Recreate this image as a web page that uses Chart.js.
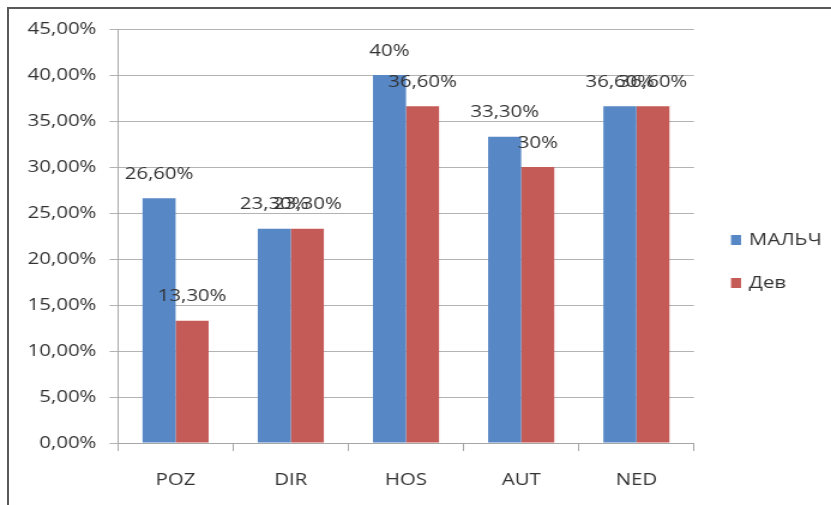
<!DOCTYPE html>
<html>
<head>
<meta charset="utf-8">
<script src="https://cdn.jsdelivr.net/npm/chart.js@4"></script>
<style>
  html, body { margin: 0; padding: 0; background: #fff; overflow: hidden; }
  #wrap { position: relative; width: 831px; height: 505px; }
  #frame { position: absolute; left: 7px; top: 7px; right: 0; bottom: -5px; border-top: 2px solid #5a5a5a; border-left: 2px solid #5a5a5a; }
  canvas { position: absolute; left: 0; top: 0; transform-origin: 0 0; }
</style>
</head>
<body>
<div id="wrap">
  <div id="frame"></div>
  <canvas id="chart"></canvas>
</div>
<script>
// данные
const categories = ['POZ', 'DIR', 'HOS', 'AUT', 'NED'];
const boys = [26.6, 23.3, 40, 33.3, 36.6];
const girls = [13.3, 23.3, 36.6, 30, 36.6];
const seriesNames = ['МАЛЬЧ', 'Дев'];
const colors = ['#5787C5', '#C55B57'];

const textColor = '#333333';
const fontFamily = '"Open Sans", sans-serif';
const fontSize = 17;

// картинка в оригинале растянута по горизонтали
const SX = 1.2;
const canvas = document.getElementById('chart');
canvas.width = Math.round(831 / SX);
canvas.height = 505;
canvas.style.transform = 'scaleX(' + (831 / canvas.width) + ')';
const sx = v => v * canvas.width / 831;

function fmt(v) {
    if (Number.isInteger(v)) return v + '%';
    return v.toFixed(2).replace('.', ',') + '%';
}

// подписи над столбцами
const barLabels = {
    id: 'barLabels',
    afterDatasetsDraw(chart) {
        const ctx = chart.ctx;
        ctx.save();
        ctx.font = fontSize + 'px ' + fontFamily;
        ctx.fillStyle = textColor;
        ctx.textAlign = 'center';
        ctx.textBaseline = 'middle';
        chart.data.datasets.forEach((ds, i) => {
            chart.getDatasetMeta(i).data.forEach((bar, j) => {
                ctx.fillText(fmt(ds.data[j]), bar.x, bar.y - 24);
            });
        });
        ctx.restore();
    }
};

// легенда справа
const sideLegend = {
    id: 'sideLegend',
    afterDraw(chart) {
        const ctx = chart.ctx;
        ctx.save();
        ctx.font = fontSize + 'px ' + fontFamily;
        ctx.textBaseline = 'middle';
        chart.data.datasets.forEach((ds, i) => {
            const y = 240 + i * 43;
            ctx.fillStyle = ds.backgroundColor;
            ctx.fillRect(sx(731), y - 5, sx(10), 10);
            ctx.fillStyle = textColor;
            ctx.fillText(ds.label, sx(749), y);
        });
        ctx.restore();
    }
};

new Chart(canvas, {
    type: 'bar',
    data: {
        labels: categories,
        datasets: [
            { label: seriesNames[0], data: boys, backgroundColor: colors[0] },
            { label: seriesNames[1], data: girls, backgroundColor: colors[1] }
        ]
    },
    options: {
        responsive: false,
        animation: false,
        layout: { padding: { left: 0, top: 29, right: sx(137), bottom: 0 } },
        datasets: { bar: { barPercentage: 1, categoryPercentage: 0.574 } },
        plugins: { legend: { display: false }, tooltip: { enabled: false } },
        scales: {
            x: {
                grid: { offset: true, drawOnChartArea: false, tickLength: 8, color: '#a6a6a6' },
                border: { color: '#a6a6a6' },
                ticks: { color: textColor, font: { size: fontSize, family: fontFamily }, padding: 19 },
                afterFit(scale) { scale.height = 62; }
            },
            y: {
                min: 0,
                max: 45,
                grid: { color: '#b3b3b3', tickLength: 7 },
                border: { color: '#a6a6a6' },
                ticks: {
                    stepSize: 5,
                    color: textColor,
                    font: { size: fontSize, family: fontFamily },
                    padding: 11,
                    callback: v => v.toFixed(2).replace('.', ',') + '%'
                },
                afterFit(scale) { scale.width = sx(118); }
            }
        }
    },
    plugins: [barLabels, sideLegend]
});
</script>
</body>
</html>
